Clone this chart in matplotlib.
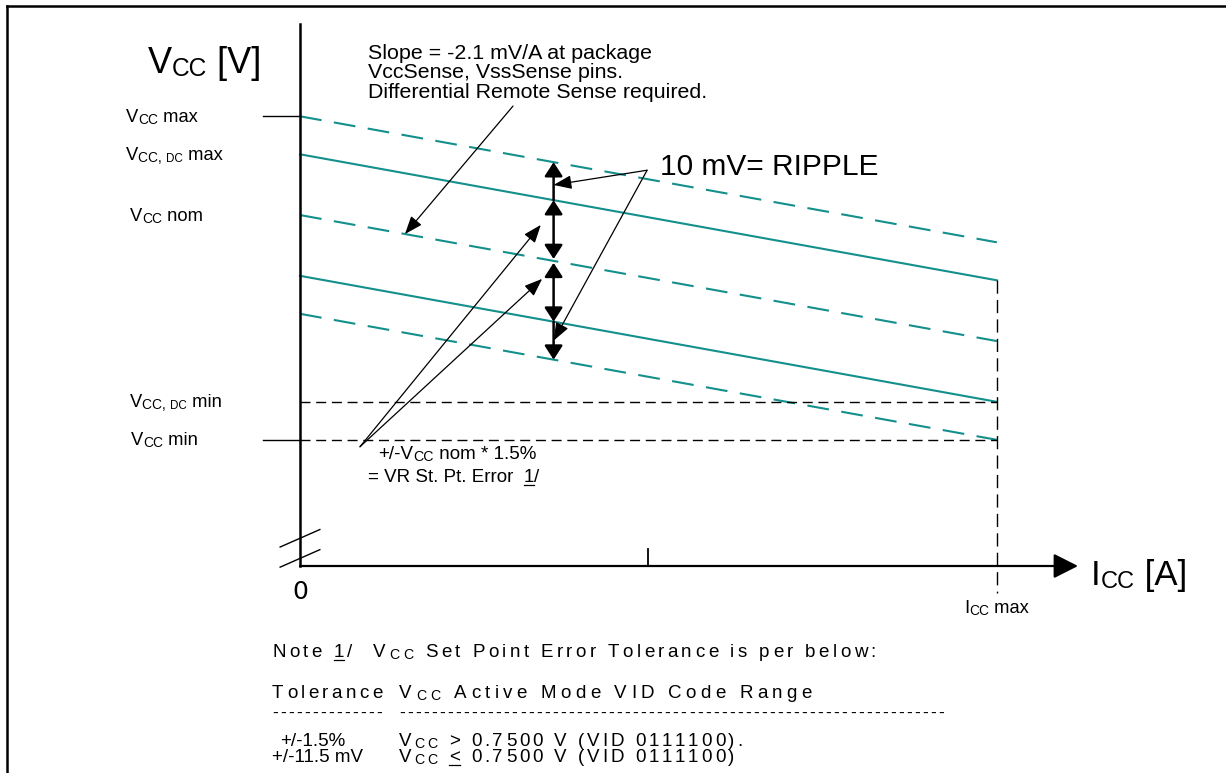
import matplotlib.pyplot as plt
from matplotlib.lines import Line2D
from matplotlib.transforms import IdentityTransform

plt.rcParams['font.family'] = ['Liberation Sans', 'DejaVu Sans']

# load line schematic, voltages in mV relative to Vcc nom at 0 A
ICC_MAX = 15.8          # A
LOADLINE = -2.1         # mV/A
SETPOINT_TOL = 16.0     # mV, +/-1.5 % set point band (solid lines)
RIPPLE = 10.0           # mV, ripple outside the band (dashed lines)
ARROW_AT = 5.75         # A, where the ripple / tolerance arrows sit

band_offsets = [SETPOINT_TOL + RIPPLE, SETPOINT_TOL, 0.0,
                -SETPOINT_TOL, -SETPOINT_TOL - RIPPLE]
VCC_DC_MIN = -SETPOINT_TOL + LOADLINE * ICC_MAX
VCC_MIN = -SETPOINT_TOL - RIPPLE + LOADLINE * ICC_MAX

level_values = [band_offsets[0], band_offsets[1], band_offsets[2], VCC_DC_MIN, VCC_MIN]
level_subs = ['CC', 'CC, |DC', 'CC', 'CC, |DC', 'CC']
level_words = [' max', ' max', ' nom', ' min', ' min']

# annotation anchors (A, mV)
slope_from = (4.83, 28.7)
slope_to_x = 2.38
ripple_from = (7.87, 11.8)
tol_from = (1.36, -61.0)
tol_tips = [(5.46, -2.6), (5.49, -16.8)]

slope_text = ['Slope = -2.1 mV/A at package',
              'VccSense, VssSense pins.',
              'Differential Remote Sense required.']
tol_values = ['+/-1.5%', '+/-11.5 mV']
tol_ranges = [' 0.7500 V (VID 0111100).', ' 0.7500 V (VID 0111100)']

X_END = 17.64
Y_TOP, Y_BOTTOM = 50.3, -92.4
TEAL = '#14908C'

W, H = 1226, 773
fig = plt.figure(figsize=(W / 100, H / 100), dpi=100)
renderer = fig.canvas.get_renderer()
ax = fig.add_axes([300 / W, (H - 566) / H, (1078 - 300) / W, (566 - 24) / H])
ax.set_xlim(0, X_END)
ax.set_ylim(Y_BOTTOM, Y_TOP)
ax.set_xticks([])
ax.set_yticks([])
ax.patch.set_visible(False)
for s in ['top', 'right', 'bottom']:
    ax.spines[s].set_visible(False)
ax.spines['left'].set_linewidth(1.8)

ident = IdentityTransform()


def width(s, size, **kw):
    a = fig.text(0, 0, '|' + s + '|', fontsize=size, **kw)
    b = fig.text(0, 0, '||', fontsize=size, **kw)
    w = a.get_window_extent(renderer).width - b.get_window_extent(renderer).width
    a.remove()
    b.remove()
    return w


def write(x, y, parts, size, track=0.0, center=False):
    # parts: (text, relative size, baseline drop px, underline); x,y from top-left
    if center:
        tot = 0
        for s, rel, drop, ul in parts:
            for p in (list(s) if track else s.split('|')):
                tot += width(p, size * rel) + track
        x -= tot / 2
    for s, rel, drop, ul in parts:
        fs = size * rel
        pieces = list(s) if track else [s]
        for p in pieces:
            if '|' in p and not track:
                # smaller trailing part, e.g. "CC, |DC"
                a, b = p.split('|')
                x = write(x, y, [(a, rel, drop, ul), (b, rel * 0.85, drop, ul)], size)
                continue
            fig.text(x, H - y - drop, p, fontsize=fs, transform=ident,
                     va='baseline', ha='left')
            w = width(p, fs)
            if ul:
                fig.add_artist(Line2D([x, x + w], [H - y - drop - 2.5] * 2,
                                      transform=ident, color='black', lw=0.9))
            x += w + track
    return x


def to_px(x, y):
    dx, dy = ax.transData.transform((x, y))
    return dx, H - dy


# load lines
xs = [0, ICC_MAX]
for off in band_offsets:
    ys = [off, off + LOADLINE * ICC_MAX]
    if abs(off) == SETPOINT_TOL:
        ax.plot(xs, ys, color=TEAL, lw=1.5, clip_on=False)
    else:
        ax.plot(xs, ys, color=TEAL, lw=1.5, dashes=(10.5, 6), clip_on=False)

# horizontal limits and Icc max marker
for v in [VCC_DC_MIN, VCC_MIN]:
    ax.plot(xs, [v, v], color='black', lw=1.0, dashes=(7.2, 4.1), clip_on=False)
for v in [band_offsets[0], VCC_MIN]:
    ax.plot([-0.84, 0], [v, v], color='black', lw=1.0, clip_on=False)
ax.plot([ICC_MAX, ICC_MAX], [SETPOINT_TOL + LOADLINE * ICC_MAX, Y_BOTTOM - 7.1],
        color='black', lw=1.0, dashes=(9.5, 4.5), clip_on=False)
ax.plot([ICC_MAX / 2] * 2, [Y_BOTTOM, Y_BOTTOM + 4.5], color='black', lw=1.3, clip_on=False)

# axis break marks
for c in [7.3, 2.0]:
    ax.plot([-0.45, 0.45], [Y_BOTTOM + c - 2.3, Y_BOTTOM + c + 2.3],
            color='black', lw=1.0, clip_on=False)

# x axis with arrow
ax.annotate('', xy=(X_END, Y_BOTTOM), xytext=(0, Y_BOTTOM), annotation_clip=False,
            arrowprops=dict(arrowstyle='-|>,head_length=0.75,head_width=0.38',
                            mutation_scale=20, lw=1.6, color='black',
                            shrinkA=0, shrinkB=0))

# arrows
thin = dict(arrowstyle='-|>,head_length=1.1,head_width=0.42', mutation_scale=10,
            lw=0.9, color='black', shrinkA=0, shrinkB=0)
ax.annotate('', xy=(slope_to_x, LOADLINE * slope_to_x), xytext=slope_from,
            arrowprops=thin, annotation_clip=False)
lv = [off + LOADLINE * ARROW_AT for off in band_offsets]
ax.annotate('', xy=(ARROW_AT, (lv[0] + lv[1]) / 2 - 1.0), xytext=ripple_from, arrowprops=thin)
ax.annotate('', xy=(ARROW_AT, (lv[3] + lv[4]) / 2), xytext=ripple_from, arrowprops=thin)
for tip in tol_tips:
    ax.annotate('', xy=tip, xytext=tol_from, arrowprops=thin, annotation_clip=False)

thick = dict(mutation_scale=10, lw=1.8, color='black', shrinkA=0, shrinkB=0)
single = '-|>,head_length=0.85,head_width=0.55'
double = '<|-|>,head_length=0.85,head_width=0.55'
ax.annotate('', xy=(ARROW_AT, lv[0]), xytext=(ARROW_AT, lv[1]),
            arrowprops=dict(arrowstyle=single, **thick))
ax.annotate('', xy=(ARROW_AT, lv[2] + 0.5), xytext=(ARROW_AT, lv[1]),
            arrowprops=dict(arrowstyle=double, **thick))
ax.annotate('', xy=(ARROW_AT, lv[3]), xytext=(ARROW_AT, lv[2] - 0.5),
            arrowprops=dict(arrowstyle=double, **thick))
ax.annotate('', xy=(ARROW_AT, lv[4]), xytext=(ARROW_AT, lv[3]),
            arrowprops=dict(arrowstyle=single, **thick))

# axis labels
write(148, 73, [('V', 1, 0, False), ('CC', 0.68, 3, False), (' [V]', 1, 0, False)], 26)
ax_x, ax_y = to_px(X_END, Y_BOTTOM)
write(ax_x + 13, ax_y + 19, [('I', 1, 0, False), ('CC', 0.68, 3, False), (' [A]', 1, 0, False)], 25)
ax.annotate('0', xy=(0, Y_BOTTOM), xytext=(0, -26), textcoords='offset pixels',
            ha='center', va='center', fontsize=18, family='DejaVu Sans',
            annotation_clip=False)
cx, _ = to_px(ICC_MAX, Y_BOTTOM)
write(cx, ax_y + 47, [('I', 1, 0, False), ('CC', 0.75, 2, False), (' max', 1, 0, False)],
      13.2, center=True)

# level labels
label_left = [126, 126, 130, 130, 131]
for v, sub, word, lx in zip(level_values, level_subs, level_words, label_left):
    _, py = to_px(0, v)
    write(lx, py + 5.5, [('V', 1, 0, False), (sub, 0.75, 2, False), (word, 1, 0, False)], 13.2)

# annotation texts
for i, line in enumerate(slope_text):
    write(368, 59 + 19.5 * i, [(line, 1, 0, False)], 15.4)
fig.text(660, H - 175, '10 mV= RIPPLE', fontsize=21.5, transform=ident, va='baseline')
write(378, 459, [('+/-V', 1, 0, False), ('CC', 0.75, 2, False),
                 (' nom * 1.5%', 1, 0, False)], 13.5)
write(368, 482, [('= VR St. Pt. Error  ', 1, 0, False), ('1', 1, 0, True),
                 ('/', 1, 0, False)], 13.5)

# note and tolerance table
FS = 13.5
write(272, 657, [('Note ', 1, 0, False), ('1', 1, 0, True), ('/  V', 1, 0, False),
                 ('CC', 0.75, 2, False), (' Set Point Error Tolerance is per below:', 1, 0, False)],
      FS, track=3.4)
write(272, 698, [('Tolerance', 1, 0, False)], FS, track=3.4)
write(399, 698, [('V', 1, 0, False), ('CC', 0.75, 2, False),
                 (' Active Mode VID Code Range', 1, 0, False)], FS, track=4.3)
write(272, 718, [('-' * 14, 1, 0, False)], 12.5, track=2.3)
write(399, 718, [('-' * 68, 1, 0, False)], 12.5, track=2.3)
rel_signs = [('>', False), ('<', True)]
for i, (tv, rng, (sign, ul)) in enumerate(zip(tol_values, tol_ranges, rel_signs)):
    y = 746 + 16 * i
    write(272 + (8 if i == 0 else 0), y, [(tv, 1, 0, False)], FS)
    write(399, y, [('V', 1, 0, False), ('CC', 0.75, 2, False), (' ', 1, 0, False),
                   (sign, 1, 0, ul), (rng, 1, 0, False)], FS, track=2.9)

# page frame
fig.add_artist(Line2D([7, 7], [0, H - 6], transform=ident, color='black', lw=1.8))
fig.add_artist(Line2D([7, W], [H - 6, H - 6], transform=ident, color='black', lw=1.8))

fig.savefig('out.png', dpi=100, facecolor='white')
